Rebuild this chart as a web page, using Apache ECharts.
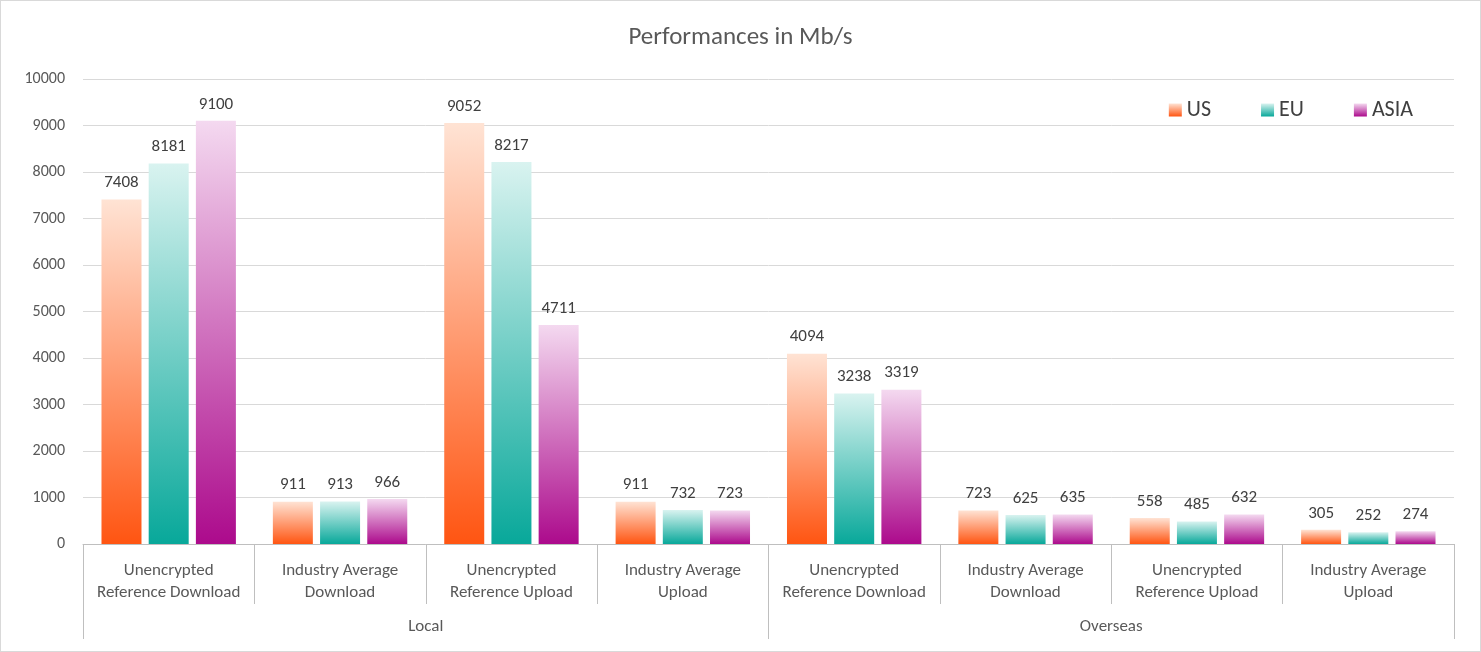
<!DOCTYPE html>
<html>
<head>
<meta charset="utf-8">
<script src="https://cdn.jsdelivr.net/npm/echarts@6/dist/echarts.min.js"></script>
<style>
  html, body { margin: 0; padding: 0; background: #fff; }
  #chart { width: 1481px; height: 652px; box-sizing: border-box; border: 1px solid #d9d9d9; }
</style>
</head>
<body>
<div id="chart"></div>
<script>
const categories = [
  "Unencrypted\nReference Download", "Industry Average\nDownload",
  "Unencrypted\nReference Upload", "Industry Average\nUpload",
  "Unencrypted\nReference Download", "Industry Average\nDownload",
  "Unencrypted\nReference Upload", "Industry Average\nUpload"
];
const regions = ["Local", "Overseas"];
const usValues = [7408, 911, 9052, 911, 4094, 723, 558, 305];
const euValues = [8181, 913, 8217, 732, 3238, 625, 485, 252];
const asiaValues = [9100, 966, 4711, 723, 3319, 635, 632, 274];

const chart = echarts.init(document.getElementById("chart"));
const font = "Calibri, Carlito, 'Open Sans', sans-serif";

const grad = (top, bottom) => new echarts.graphic.LinearGradient(0, 0, 0, 1, [
  { offset: 0, color: top },
  { offset: 1, color: bottom }
]);

const makeSeries = (name, data, top, bottom) => ({
  name,
  type: "bar",
  data,
  barWidth: 40,
  barGap: "18%",
  itemStyle: { color: grad(top, bottom) },
  label: { show: true, position: "top", color: "#404040", fontSize: 17, fontFamily: font, distance: 8 }
});

chart.setOption({
  title: {
    text: "Performances in Mb/s",
    left: "center",
    top: 19,
    textStyle: { color: "#595959", fontSize: 25, fontWeight: "normal", fontFamily: font }
  },
  legend: {
    top: 93,
    right: 62,
    itemWidth: 13,
    itemHeight: 13,
    itemGap: 50,
    icon: "rect",
    textStyle: { color: "#404040", fontSize: 22, fontFamily: font }
  },
  grid: { left: 82, right: 26, top: 78, bottom: 107 },
  xAxis: [
    {
      type: "category",
      data: categories,
      axisLine: { lineStyle: { color: "#bfbfbf" } },
      axisTick: { show: true, interval: 0, length: 60, lineStyle: { color: "#bfbfbf" } },
      axisLabel: { interval: 0, color: "#595959", fontSize: 17, fontFamily: font, lineHeight: 22, margin: 16 }
    },
    {
      type: "category",
      data: regions,
      position: "bottom",
      offset: 60,
      axisLine: { show: false },
      axisTick: { show: true, interval: 0, length: 35, lineStyle: { color: "#bfbfbf" } },
      axisLabel: { interval: 0, color: "#595959", fontSize: 17, fontFamily: font, margin: 14 }
    }
  ],
  yAxis: {
    type: "value",
    min: 0,
    max: 10000,
    interval: 1000,
    axisLine: { show: false },
    axisTick: { show: false },
    splitLine: { lineStyle: { color: "#d9d9d9" } },
    axisLabel: { formatter: (v) => String(v), color: "#595959", fontSize: 16, fontFamily: font, margin: 18 }
  },
  series: [
    makeSeries("US", usValues, "#ffe3d4", "#ff5512"),
    makeSeries("EU", euValues, "#d9f3f0", "#08a89a"),
    makeSeries("ASIA", asiaValues, "#f4d9f0", "#ac0a8c")
  ]
});
</script>
</body>
</html>
